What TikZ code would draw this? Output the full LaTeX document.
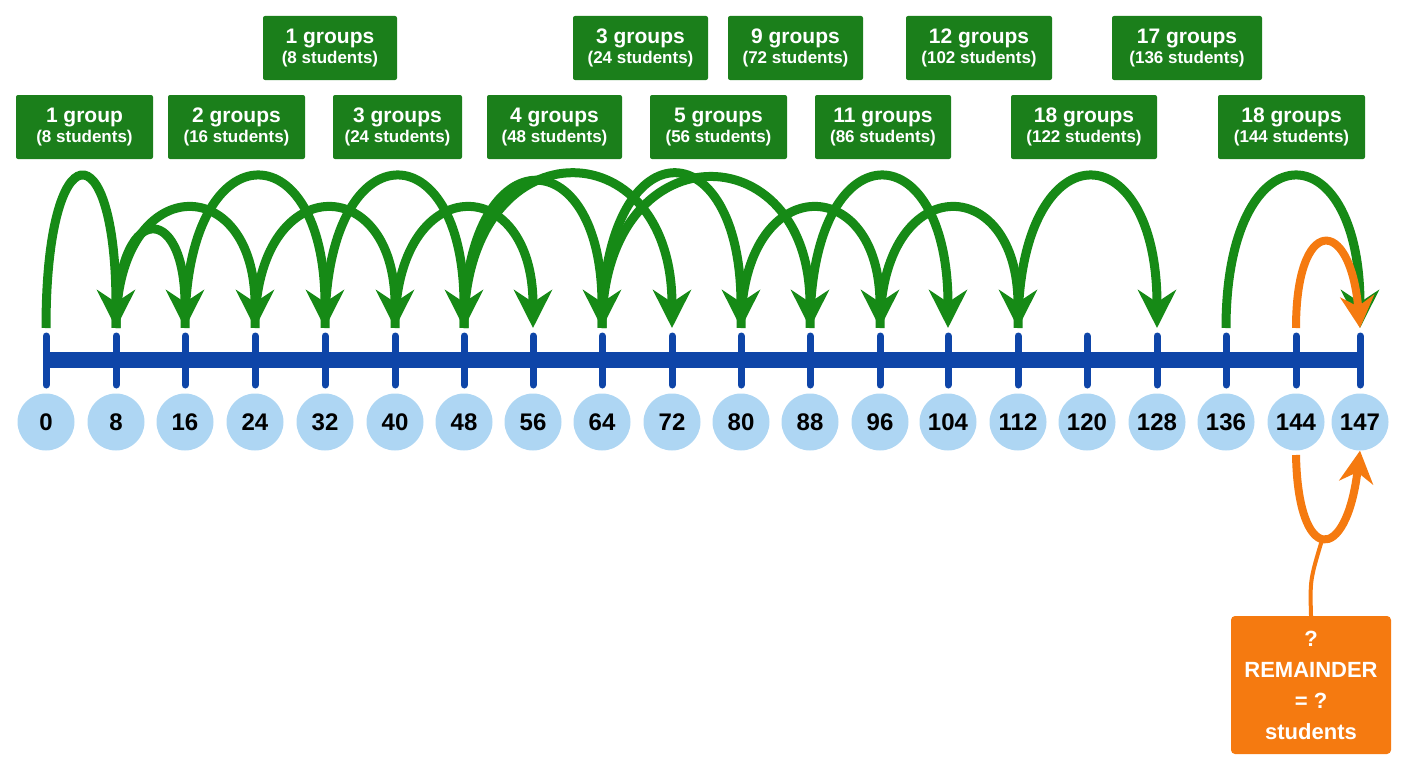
\documentclass[tikz,border=0pt]{standalone}
\usepackage{fontspec}
\setmainfont{Liberation Sans}
\usetikzlibrary{arrows.meta}
\definecolor{gr}{HTML}{1B7F1B}
\definecolor{ar}{HTML}{168A16}
\definecolor{bl}{HTML}{0E45A8}
\definecolor{lb}{HTML}{AED6F3}
\definecolor{og}{HTML}{F57A10}
\begin{document}
\begin{tikzpicture}[x=1pt,y=-1pt,
 lab/.style={fill=gr,text=white,font=\bfseries,align=center,inner sep=3pt,rounded corners=2pt,minimum height=64pt},
 num/.style={circle,fill=lb,minimum size=57pt,inner sep=0pt,font=\bfseries\fontsize{24}{24}\selectfont},
 jump/.style={draw=ar,line width=9pt,-{Stealth[length=38pt,width=38pt]}},
 oj/.style={draw=og,line width=8pt,-{Stealth[length=32pt,width=34pt]}}]
\useasboundingbox (0,0) rectangle (1408,768);
% number line
\draw[bl,line width=16pt] (46,360) -- (1360,360);
\foreach \v/\x in {0/46,8/116,16/185,24/255,32/325,40/395,48/464,56/533,64/602,72/672,80/741,88/810,96/880,104/948,112/1018,120/1087,128/1157,136/1226,144/1296,147/1360}{
  \draw[bl,line width=7pt,line cap=round] (\x,336) -- (\x,385);
  \coordinate (t\v) at (\x,328);
  \node[num] (n\v) at (\x,422) {\v};
}
% green jumps: from/to/control height
\foreach \a/\b/\c in {0/8/128,8/16/200,8/24/170,16/32/128,24/40/170,32/48/128,40/56/170,48/64/135,48/72/125,64/80/125,64/88/130,80/96/170,88/104/128,96/112/170,112/128/128,136/147/128}{
  \draw[jump] (t\a) .. controls (t\a |- 0,\c) and (t\b |- 0,\c) .. (t\b);
}
\draw[oj] (t144) .. controls (1296,215) and (1350,215) .. (t147);
% labels
\newcommand\lbl[2]{{\fontsize{21}{22}\selectfont #1}\\[3pt]{\fontsize{17}{18}\selectfont #2}}
\node[lab,minimum width=137pt] (l1) at (84.5,127) {\lbl{1 group}{(8 students)}};
\node[lab,minimum width=137pt] (l2) at (236.5,127) {\lbl{2 groups}{(16 students)}};
\node[lab,minimum width=129pt] (l3) at (397.5,127) {\lbl{3 groups}{(24 students)}};
\node[lab,minimum width=135pt] (l4) at (554.5,127) {\lbl{4 groups}{(48 students)}};
\node[lab,minimum width=137pt] (l5) at (718.5,127) {\lbl{5 groups}{(56 students)}};
\node[lab,minimum width=136pt] (l6) at (883,127) {\lbl{11 groups}{(86 students)}};
\node[lab,minimum width=146pt] (l7) at (1084,127) {\lbl{18 groups}{(122 students)}};
\node[lab,minimum width=147pt] (l8) at (1291.5,127) {\lbl{18 groups}{(144 students)}};
\node[lab,minimum width=134pt] (m1) at (330,48) {\lbl{1 groups}{(8 students)}};
\node[lab,minimum width=135pt] (m2) at (640.5,48) {\lbl{3 groups}{(24 students)}};
\node[lab,minimum width=135pt] (m3) at (795.5,48) {\lbl{9 groups}{(72 students)}};
\node[lab,minimum width=146pt] (m4) at (979,48) {\lbl{12 groups}{(102 students)}};
\node[lab,minimum width=150pt] (m5) at (1187,48) {\lbl{17 groups}{(136 students)}};
% remainder box
\node[fill=og,text=white,font=\bfseries\fontsize{22}{31}\selectfont,align=center,rounded corners=4pt,minimum width=160pt,minimum height=138pt] (rem) at (1311,685) {?\\REMAINDER\\= ?\\students};
\coordinate (j) at (1322,540);
\draw[og,line width=4pt] (rem.north) .. controls (1310,580) .. (j);
\draw[oj] (1296,455) .. controls (1298,565) and (1346,565) .. (n147.south);
\end{tikzpicture}
\end{document}
